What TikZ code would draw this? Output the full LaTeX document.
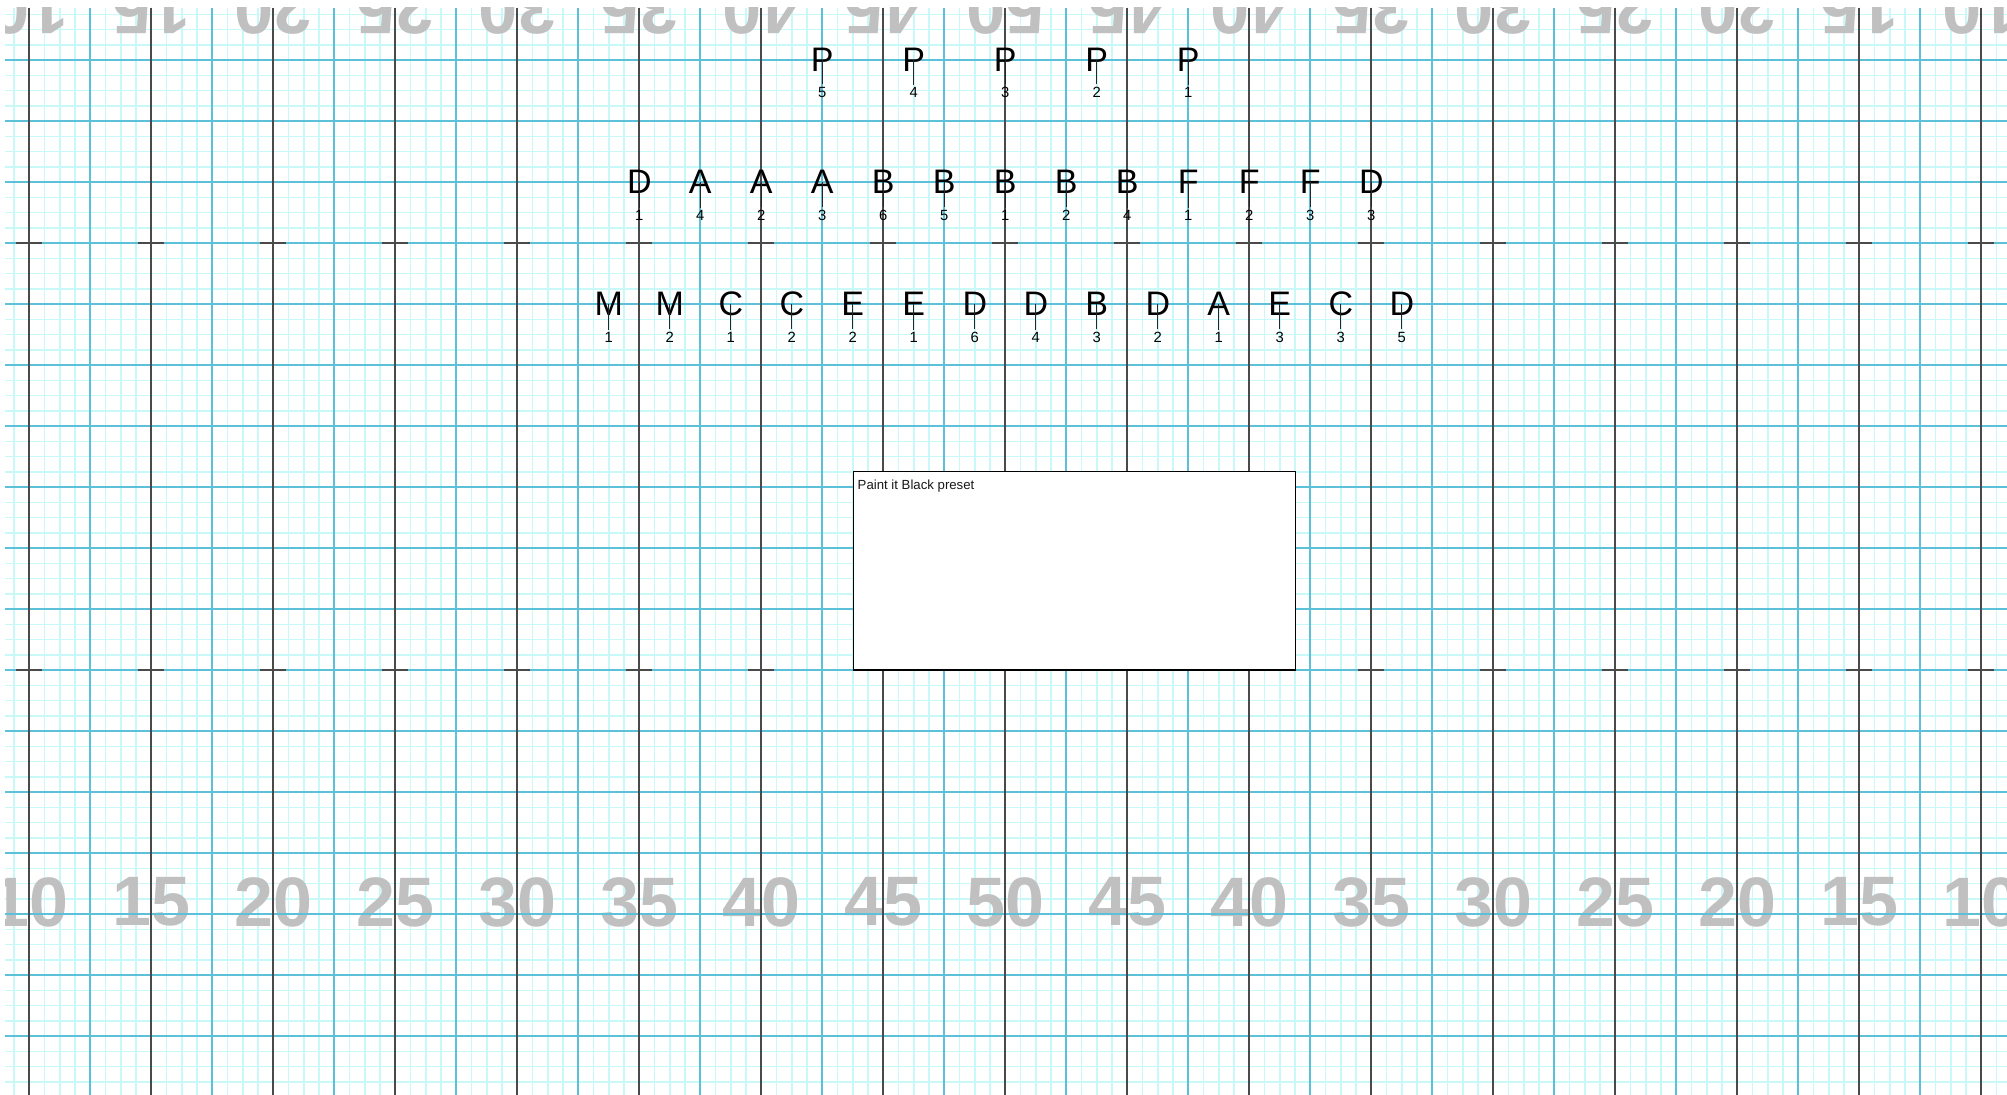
\documentclass[tikz,border=0pt]{standalone}
\usepackage{fontspec}
\setmainfont{Liberation Sans}
\definecolor{minorc}{HTML}{C8F8F8}
\definecolor{majorc}{HTML}{5BC0D8}
\definecolor{darkc}{HTML}{4A4A4A}
\definecolor{rulec}{HTML}{C0C0C0}
\begin{document}
\begin{tikzpicture}[x=0.5pt,y=-0.5pt,
  minorline/.style={minorc, line width=0.75pt},
  majorline/.style={majorc, line width=1.1pt},
  darkline/.style={darkc, line width=1pt},
  tickline/.style={darkc, line width=1.3pt},
  rulenum/.style={text=rulec, font=\fontsize{35}{35}\selectfont\bfseries, inner sep=0pt},
  letternode/.style={font=\fontsize{17}{17}\selectfont, inner sep=0pt, text=black},
  numnode/.style={font=\fontsize{7.4}{7.4}\selectfont, inner sep=1pt, text=black},
  stemline/.style={line width=0.6pt, black!85},
  presetbox/.style={draw=black, fill=white, line width=0.7pt, inner sep=0pt, anchor=north west, minimum width=221pt, minimum height=99.3pt},
  presettext/.style={anchor=base west, font=\fontsize{6.6}{6.6}\selectfont, inner sep=0pt, text=black!90}
  ]
\useasboundingbox (0,0) rectangle (2007,1094);
\fill[white] (0,0) rectangle (2007,1094);
\begin{scope}
\clip (5,7.5) rectangle (2007,1094);
% minor grid
\foreach \j in {-1,...,129} {
  \draw[minorline] ({29.3+15.25*\j},7.5) -- ++(0,1090);
}
\foreach \j in {-3,...,67} {
  \draw[minorline] (5,{60+15.25*\j}) -- ++(2010,0);
}
% ruler numbers
\foreach \v [count=\i from 0] in {10,15,20,25,30,35,40,45,50,45,40,35,30,25,20,15,10} {
  \node[rulenum, rotate=180] (top\i) at ({29.3+122*\i},9.5) {\v};
  \node[rulenum] (bot\i) at ({29.3+122*\i},902) {\v};
}
% major grid
\foreach \k in {0,...,16} {
  \draw[majorline] (5,{60+61*\k}) -- ++(2010,0);
}
\foreach \k in {0,...,32} {
  \draw[majorline] ({29.3+61*\k},7.5) -- ++(0,1090);
}
% dark lines
\foreach \k in {0,...,16} {
  \draw[darkline] ({29.3+122*\k},7.5) -- ++(0,1090);
  \draw[tickline] ({29.3+122*\k-13},243) -- ++(26,0);
  \draw[tickline] ({29.3+122*\k-13},670) -- ++(26,0);
}
\end{scope}
% row 1
\foreach \L/\n [count=\i from 0] in {P/5,P/4,P/3,P/2,P/1} {
  \node[letternode] (ra\i) at ({822.3+91.5*\i},60) {\L};
  \node[numnode] (na\i) at ({822.3+91.5*\i},92) {\n};
  \draw[stemline] (ra\i.center) -- (na\i.north);
}
% row 2
\foreach \L/\n [count=\i from 0] in {D/1,A/4,A/2,A/3,B/6,B/5,B/1,B/2,B/4,F/1,F/2,F/3,D/3} {
  \node[letternode] (rb\i) at ({639.3+61*\i},182) {\L};
  \node[numnode] (nb\i) at ({639.3+61*\i},215) {\n};
  \draw[stemline] (rb\i.center) -- (nb\i.north);
}
% row 3
\foreach \L/\n [count=\i from 0] in {M/1,M/2,C/1,C/2,E/2,E/1,D/6,D/4,B/3,D/2,A/1,E/3,C/3,D/5} {
  \node[letternode] (rc\i) at ({608.8+61*\i},304) {\L};
  \node[numnode] (nc\i) at ({608.8+61*\i},337) {\n};
  \draw[stemline] (rc\i.center) -- (nc\i.north);
}
% preset box
\node[presetbox] (preset) at (852.7,470.7) {};
\node[presettext] (presetlabel) at (857.3,489) {Paint it Black preset};
\end{tikzpicture}
\end{document}
